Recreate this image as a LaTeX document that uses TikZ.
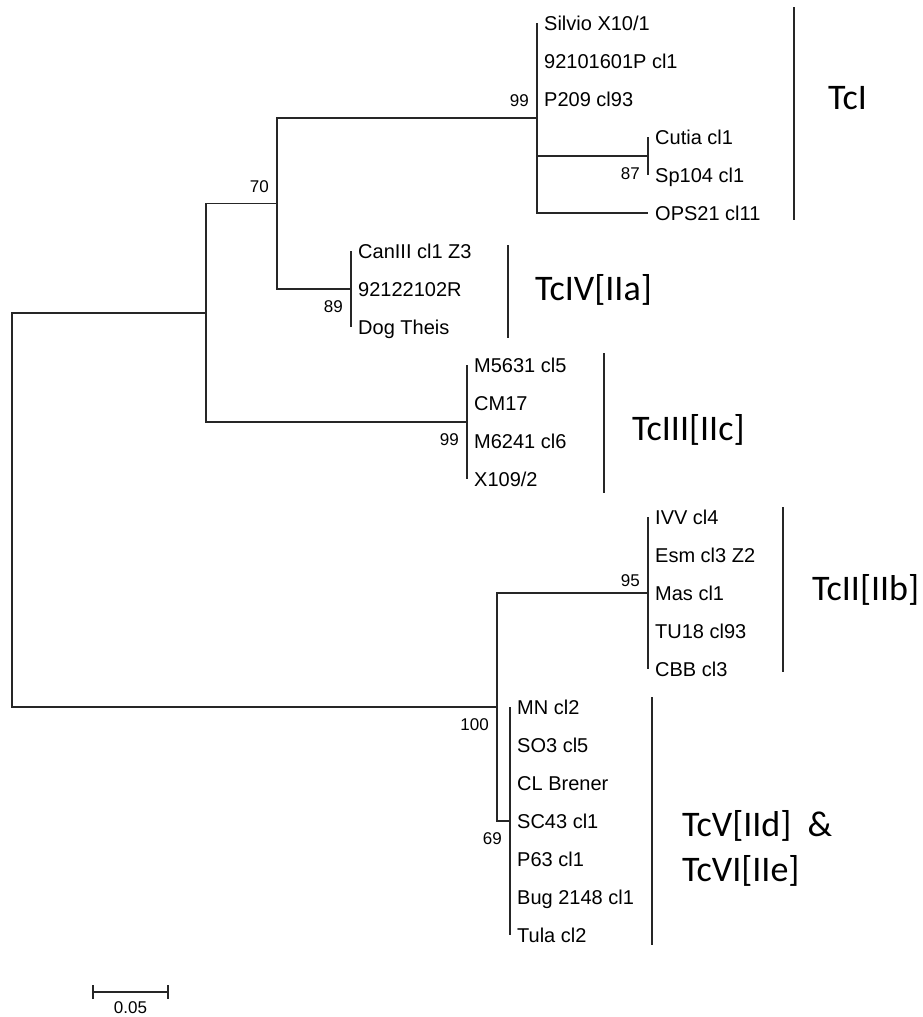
\documentclass[tikz,border=0pt]{standalone}
\usepackage{fontspec}
\setmainfont{Liberation Sans}
\newfontfamily\cladefont{Carlito}
\usetikzlibrary{arrows.meta}

\begin{document}
\begin{tikzpicture}[x=1pt,y=-1pt,
  tree/.style={draw=black!85,line width=1.6pt},
  bar/.style={draw=black!85,line width=2.2pt},
  leaf/.style={anchor=west,inner xsep=7pt,inner ysep=0pt,text height=14pt,text depth=0pt,font=\fontsize{20}{24}\selectfont},
  boot/.style={inner xsep=8pt,inner ysep=11pt,text height=12pt,text depth=0pt,font=\fontsize{17}{20}\selectfont},
  clade/.style={anchor=west,inner sep=0pt,align=left,font=\cladefont\fontsize{36}{45}\selectfont}]
  \useasboundingbox (0,0) rectangle (922,1017);
  % inner nodes of the tree
  \coordinate (root) at (12,509.9);
  \coordinate (a) at (206,312.75);
  \coordinate (b) at (277,203.5);
  \coordinate (tci) at (537,118);
  \coordinate (cut) at (648,156);
  \coordinate (tciv) at (351,289);
  \coordinate (tciii) at (467,422);
  \coordinate (d) at (497,707);
  \coordinate (tcii) at (648,593);
  \coordinate (tcv) at (510,821);
  % leaves
  \node[leaf](silvio) at (537,23){Silvio X10/1};
  \node[leaf](p9210) at (537,61){92101601P cl1};
  \node[leaf](p209) at (537,99){P209 cl93};
  \node[leaf](cutia) at (648,137){Cutia cl1};
  \node[leaf](sp104) at (648,175){Sp104 cl1};
  \node[leaf](ops21) at (648,213){OPS21 cl11};
  \node[leaf](can3) at (351,251){CanIII cl1 Z3};
  \node[leaf](r9212) at (351,289){92122102R};
  \node[leaf](dog) at (351,327){Dog Theis};
  \node[leaf](m5631) at (467,365){M5631 cl5};
  \node[leaf](cm17) at (467,403){CM17};
  \node[leaf](m6241) at (467,441){M6241 cl6};
  \node[leaf](x109) at (467,479){X109/2};
  \node[leaf](ivv) at (648,517){IVV cl4};
  \node[leaf](esm) at (648,555){Esm cl3 Z2};
  \node[leaf](mas) at (648,593){Mas cl1};
  \node[leaf](tu18) at (648,631){TU18 cl93};
  \node[leaf](cbb) at (648,669){CBB cl3};
  \node[leaf](mn) at (510,707){MN cl2};
  \node[leaf](so3) at (510,745){SO3 cl5};
  \node[leaf](clb) at (510,783){CL Brener};
  \node[leaf](sc43) at (510,821){SC43 cl1};
  \node[leaf](p63) at (510,859){P63 cl1};
  \node[leaf](bug) at (510,897){Bug 2148 cl1};
  \node[leaf](tula) at (510,935){Tula cl2};
  % branches
  \draw[tree](a) -| (root) |- (d);
  \draw[tree](b) -| (a) |- (tciii);
  \draw[tree](tci) -| (b) |- (tciv);
  \draw[tree](tci |- silvio) -- (tci |- ops21) -- (ops21.west);
  \draw[tree](tci |- cut) -- (cut);\draw[tree](cut |- cutia) -- (cut |- sp104);
  \draw[tree](tciv |- can3) -- (tciv |- dog);
  \draw[tree](tciii |- m5631) -- (tciii |- x109);
  \draw[tree](tcii) -| (d) |- (tcv);
  \draw[tree](tcii |- ivv) -- (tcii |- cbb);
  \draw[tree](tcv |- mn) -- (tcv |- tula);
  % bootstrap values
  \node[boot,anchor=south east](bs-b) at (b){70};
  \node[boot,anchor=south east](bs-tci) at (tci){99};
  \node[boot,anchor=north east](bs-cut) at (cut){87};
  \node[boot,anchor=north east](bs-tciv) at (tciv){89};
  \node[boot,anchor=north east](bs-tciii) at (tciii){99};
  \node[boot,anchor=south east,inner ysep=6pt](bs-tcii) at (tcii){95};
  \node[boot,anchor=north east](bs-d) at (d){100};
  \node[boot,anchor=north east](bs-tcv) at (tcv){69};
  % lineages
  \draw[bar](794,7) -- (794,220);\node[clade](lab-tci) at (828,98){TcI};
  \draw[bar](508,245) -- (508,338);\node[clade](lab-tciv) at (535,290){TcIV[IIa]};
  \draw[bar](604,353) -- (604,493);\node[clade](lab-tciii) at (632,430){TcIII[IIc]};
  \draw[bar](783,507) -- (783,672);\node[clade](lab-tcii) at (812,590){TcII[IIb]};
  \draw[bar](652,697) -- (652,945);\node[clade](lab-tcv) at (682,848){TcV[IId]\ \ \&\\TcVI[IIe]};
  % scale bar
  \coordinate (sb-l) at (92,992);\coordinate (sb-r) at (169,992);
  \draw[tree,{Bar[width=14pt]}-{Bar[width=14pt]}](sb-l) -- node[boot,anchor=north,inner ysep=0pt,yshift=-9pt](sb-lab){0.05} (sb-r);
\end{tikzpicture}
\end{document}
